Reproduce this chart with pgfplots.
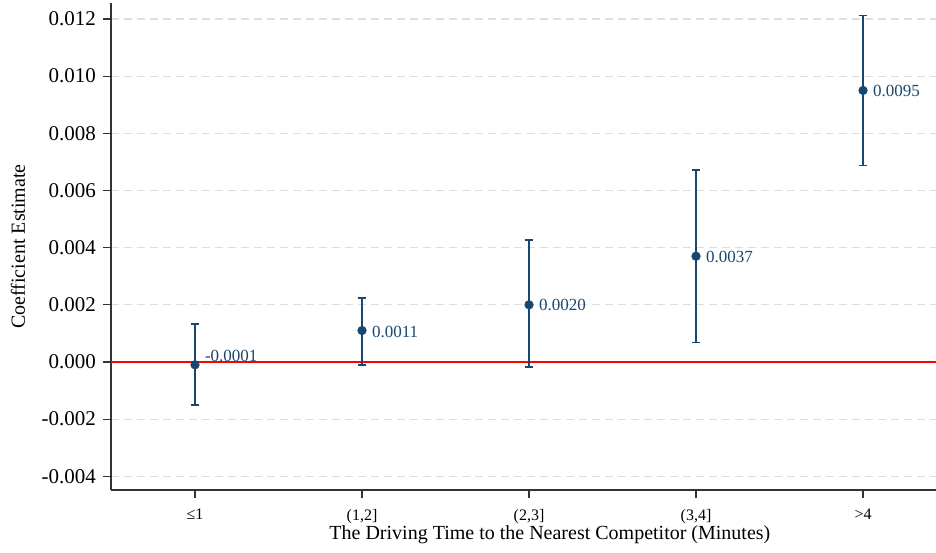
\documentclass[border=0pt]{standalone}
\usepackage{pgfplots}
\usepackage{pgfplotstable}
\pgfplotsset{compat=1.18}
\usepackage{fontspec}
\setmainfont{Liberation Serif}
\definecolor{navy}{RGB}{26,71,111}
\definecolor{gridgray}{RGB}{222,222,222}

\pgfplotstableread{
x y ep em lab dy
0 -0.0001 0.00143 0.0014 -0.0001 4.5
1 0.0011 0.00114 0.0012 0.0011 -0.8
2 0.0020 0.00227 0.00217 0.0020 -0.3
3 0.0037 0.00302 0.00302 0.0037 -0.3
4 0.0095 0.00262 0.00263 0.0095 -0.5
}\coef

\begin{document}
\begin{tikzpicture}
\begin{axis}[
  scale only axis,
  width=412.5pt, height=243.5pt,
  xmin=-0.503, xmax=4.437,
  ymin=-0.00448, ymax=0.01256,
  axis x line*=bottom, axis y line*=left,
  axis line style={line width=0.8pt, black!80},
  xtick={0,1,2,3,4},
  xticklabels={≤1,{(1,2]},{(2,3]},{(3,4]},>4},
  ytick={-0.004,-0.002,0,0.002,0.004,0.006,0.008,0.010,0.012},
  yticklabels={-0.004,-0.002,0.000,0.002,0.004,0.006,0.008,0.010,0.012},
  tick align=outside,
  major tick length=4pt,
  tick style={line width=0.6pt, black!80},
  yticklabel style={font=\fontsize{10.5}{12}\selectfont},
  xticklabel style={font=\fontsize{8}{10}\selectfont, yshift=-2pt},
  ymajorgrids,
  major grid style={gridgray, dash pattern=on 4pt off 2.5pt, line width=0.6pt},
  xlabel={The Driving Time to the Nearest Competitor (Minutes)},
  ylabel={Coefficient Estimate},
  xlabel style={font=\fontsize{10}{12}\selectfont, at={(axis description cs:0.532,-0.0924)}, anchor=center},
  ylabel style={font=\fontsize{10}{12}\selectfont, at={(axis description cs:-0.1127,0.5)}, anchor=center},
  clip=false,
]
\addplot[red, line width=0.8pt, forget plot] coordinates {(-0.503,0) (4.437,0)};
\addplot[
  only marks, navy,
  mark=*, mark size=2.1pt, mark options={fill=navy, draw=navy},
  error bars/.cd, y dir=both, y explicit,
  error bar style={line width=1pt, navy},
  error mark options={rotate=90, line width=0.8pt, mark size=2.2pt, navy},
] table[x=x, y=y, y error plus=ep, y error minus=em] {\coef};
\addplot[
  only marks, mark=none,
  nodes near coords,
  point meta=explicit symbolic,
  visualization depends on={\thisrow{dy} \as \dy},
  every node near coord/.append style={anchor=west, xshift=3.8pt, yshift=\dy pt, text=navy, font=\fontsize{8.5}{10}\selectfont, inner sep=1pt},
] table[x=x, y=y, meta=lab] {\coef};
\end{axis}
\pgfresetboundingbox
\path ([xshift=-55.5pt,yshift=-31pt]current axis.south west) rectangle ([yshift=1.5pt]current axis.north east);
\end{tikzpicture}
\end{document}
